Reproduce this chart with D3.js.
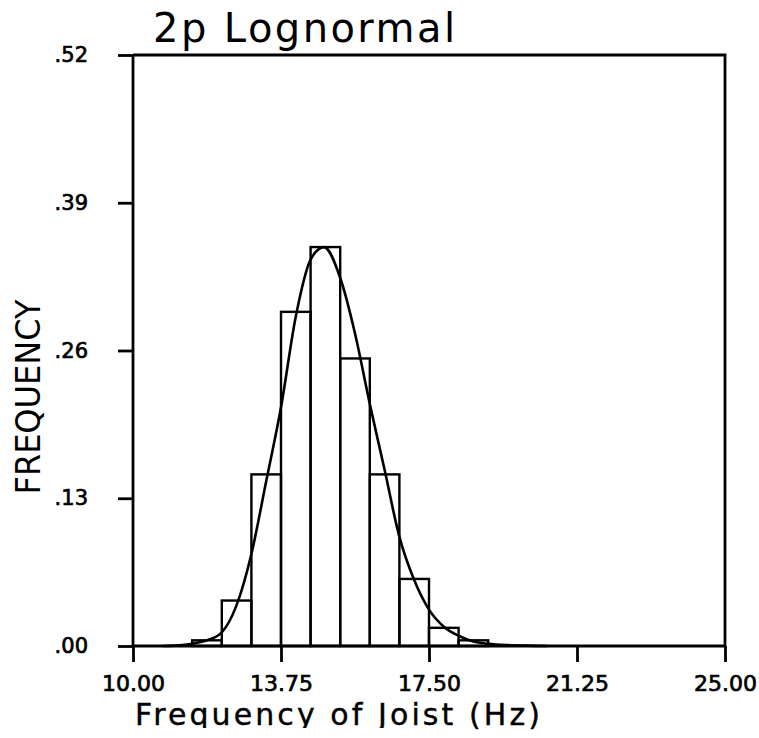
<!DOCTYPE html>
<html>
<head>
<meta charset="utf-8">
<script src="https://cdn.jsdelivr.net/npm/d3@7"></script>
<style>
  body { margin: 0; background: #fff; }
  svg { display: block; font-family: "DejaVu Sans", sans-serif; }
</style>
</head>
<body>
<div id="chart"></div>
<script>
// histogram bins (Hz) and their frequencies
const binEdges = [11.5, 12.25, 13.0, 13.75, 14.5, 15.25, 16.0, 16.75, 17.5, 18.25, 19.0];
const barFreq = [0.005, 0.040, 0.151, 0.294, 0.351, 0.253, 0.151, 0.059, 0.016, 0.005];

// fitted 2p lognormal curve
const curveX = [10.75, 11.25, 11.5, 11.875, 12.25, 12.625, 13.0, 13.375, 13.75, 14.125, 14.5, 14.84,
                15.25, 15.625, 16.0, 16.375, 16.75, 17.125, 17.5, 17.875, 18.25, 18.625, 19.0, 19.5, 20.0, 20.5];
const curveY = [0, 0.0008, 0.002, 0.005, 0.012, 0.036, 0.081, 0.145, 0.21, 0.29, 0.34, 0.351,
                0.324, 0.275, 0.213, 0.155, 0.096, 0.058, 0.032, 0.017, 0.009, 0.004, 0.002, 0.0008, 0.0003, 0];

const xTicks = [10, 13.75, 17.5, 21.25, 25];
const yTicks = [0, 0.13, 0.26, 0.39, 0.52];

const W = 759, H = 738;
const margin = {top: 55, right: 34, bottom: 92, left: 133};

const svg = d3.select("#chart").append("svg")
    .attr("width", W)
    .attr("height", H);

const x = d3.scaleLinear().domain([10, 25]).range([margin.left, W - margin.right]);
const y = d3.scaleLinear().domain([0, 0.52]).range([H - margin.bottom, margin.top]);

// bars
const bins = barFreq.map((f, i) => ({lo: binEdges[i], hi: binEdges[i + 1], f}));
svg.append("g")
  .selectAll("rect")
  .data(bins)
  .join("rect")
    .attr("x", d => x(d.lo))
    .attr("y", d => y(d.f))
    .attr("width", d => x(d.hi) - x(d.lo))
    .attr("height", d => y(0) - y(d.f))
    .attr("fill", "none")
    .attr("stroke", "#000")
    .attr("stroke-width", 2.4);

// curve
const pts = curveX.map((v, i) => [v, curveY[i]]);
svg.append("path")
    .datum(pts)
    .attr("fill", "none")
    .attr("stroke", "#000")
    .attr("stroke-width", 2.6)
    .attr("d", d3.line().x(d => x(d[0])).y(d => y(d[1])).curve(d3.curveMonotoneX));

// frame (top + right)
svg.append("path")
    .attr("d", `M${x(10)},${y(0.52)}H${x(25)}V${y(0)}`)
    .attr("fill", "none")
    .attr("stroke", "#000")
    .attr("stroke-width", 2.8);

// axes
const xAxis = d3.axisBottom(x).tickValues(xTicks).tickSize(16).tickPadding(13)
    .tickFormat(d => d.toFixed(2));
const yAxis = d3.axisLeft(y).tickValues(yTicks).tickSize(15).tickPadding(30)
    .tickFormat(d => d.toFixed(2).replace(/^0/, ""));

const styleAxis = g => {
  g.select(".domain").attr("stroke-width", 2.8);
  g.selectAll(".tick line").attr("stroke-width", 2.8);
  g.selectAll(".tick text")
    .attr("font-family", "DejaVu Sans, sans-serif")
    .attr("fill", "#000")
    .attr("stroke", "#000")
    .attr("stroke-width", 0.7);
};

svg.append("g")
    .attr("transform", `translate(0,${y(0)})`)
    .call(xAxis)
    .call(g => g.select(".domain").attr("d", `M${x(10)},0H${x(25)}`))
    .call(styleAxis)
    .call(g => g.selectAll(".tick text").attr("font-size", 22));

svg.append("g")
    .attr("transform", `translate(${x(10)},0)`)
    .call(yAxis)
    .call(g => g.select(".domain").attr("d", `M0,${y(0)}V${y(0.52)}`))
    .call(styleAxis)
    .call(g => g.selectAll(".tick text").attr("font-size", 21));

// title
svg.append("text")
    .attr("x", 153)
    .attr("y", 42)
    .attr("font-size", 40)
    .attr("textLength", 302)
    .attr("lengthAdjust", "spacing")
    .text("2p Lognormal");

// x axis title; plotter clipped the descenders of the letters
const clip = svg.append("defs").append("clipPath").attr("id", "xtclip");
clip.append("rect").attr("x", 0).attr("y", 690).attr("width", 470).attr("height", 38);
clip.append("rect").attr("x", 470).attr("y", 690).attr("width", 289).attr("height", 48);

svg.append("text")
    .attr("x", 135)
    .attr("y", 725)
    .attr("font-size", 30)
    .attr("textLength", 405)
    .attr("lengthAdjust", "spacing")
    .attr("stroke", "#000")
    .attr("stroke-width", 0.4)
    .attr("clip-path", "url(#xtclip)")
    .text("Frequency of Joist (Hz)");

// y axis title
svg.append("text")
    .attr("transform", "translate(40,397) rotate(-90)")
    .attr("text-anchor", "middle")
    .attr("font-size", 34)
    .attr("textLength", 195)
    .attr("lengthAdjust", "spacingAndGlyphs")
    .text("FREQUENCY");
</script>
</body>
</html>
